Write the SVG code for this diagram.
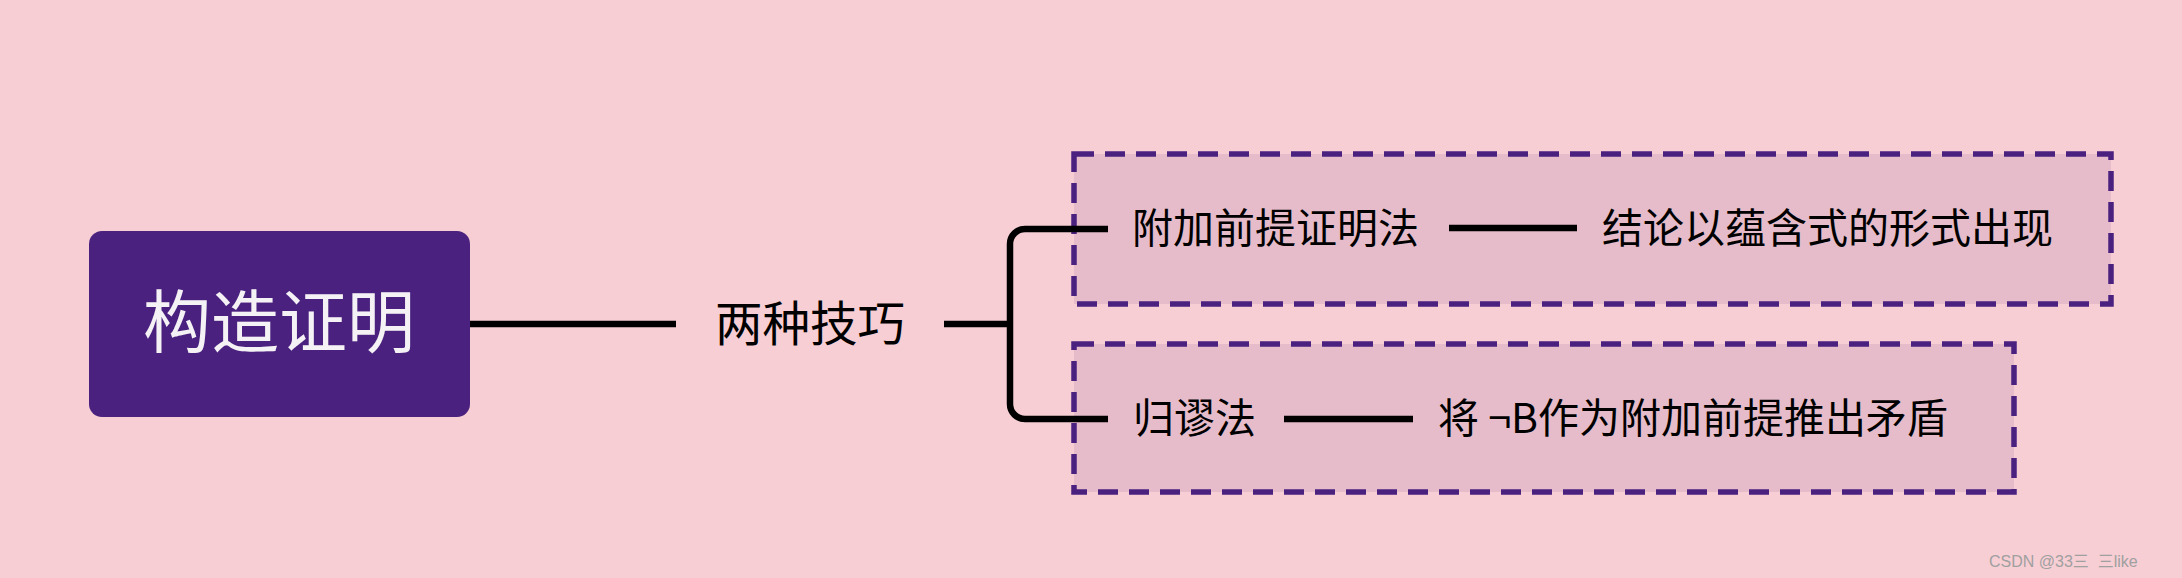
<svg xmlns="http://www.w3.org/2000/svg" width="2182" height="578" viewBox="0 0 2182 578">
<style>
.bg{fill:#f7ced4}
.root{fill:#4b2180}
.roottxt{fill:#f4f2f4;font-family:"Noto Sans CJK SC","Noto Sans",sans-serif;font-size:68px}
.t{fill:#000;font-family:"Noto Sans CJK SC","Noto Sans",sans-serif}
.t46{font-size:47.5px}
.t40{font-size:41px}
.box{fill:#e6bcca;stroke:#4b2180;stroke-width:5.5;stroke-dasharray:20 11}
.conn{fill:none;stroke:#000;stroke-width:6.5;stroke-linecap:butt}
.wm{fill:#a0a0a0;font-family:"Liberation Sans","Noto Sans CJK SC",sans-serif;font-size:16px;white-space:pre}
</style>
<rect class="bg" x="0" y="0" width="2182" height="578"/>
<g id="box-additional">
<rect class="box" x="1074" y="154" width="1037" height="150"/>
</g>
<g id="box-absurd">
<rect class="box" x="1074" y="344" width="940" height="148"/>
</g>
<g id="connectors">
<line class="conn" x1="470" y1="324" x2="676" y2="324"/>
<line class="conn" x1="944" y1="324" x2="1010" y2="324"/>
<path class="conn" d="M1108 229 H1025 A15 15 0 0 0 1010 244 V404 A15 15 0 0 0 1025 419 H1108"/>
<line class="conn" x1="1449" y1="228" x2="1577" y2="228"/>
<line class="conn" x1="1284" y1="419" x2="1413" y2="419"/>
</g>
<g id="root">
<rect class="root" x="89" y="231" width="381" height="186" rx="13"/>
<text class="roottxt" x="279" y="347" text-anchor="middle">构造证明</text>
</g>
<g id="techniques">
<text class="t t46" x="715" y="341">两种技巧</text>
</g>
<g id="additional">
<text class="t t40" x="1132" y="243">附加前提证明法</text>
</g>
<g id="additional-desc">
<text class="t t40" x="1602" y="243">结论以蕴含式的形式出现</text>
</g>
<g id="absurd">
<text class="t t40" x="1133" y="433">归谬法</text>
</g>
<g id="absurd-desc">
<text class="t t40" x="1438" y="433">将 ¬B作为附加前提推出矛盾</text>
</g>
<text class="wm" x="1989" y="567" xml:space="preserve">CSDN @33三  三like</text>
</svg>
